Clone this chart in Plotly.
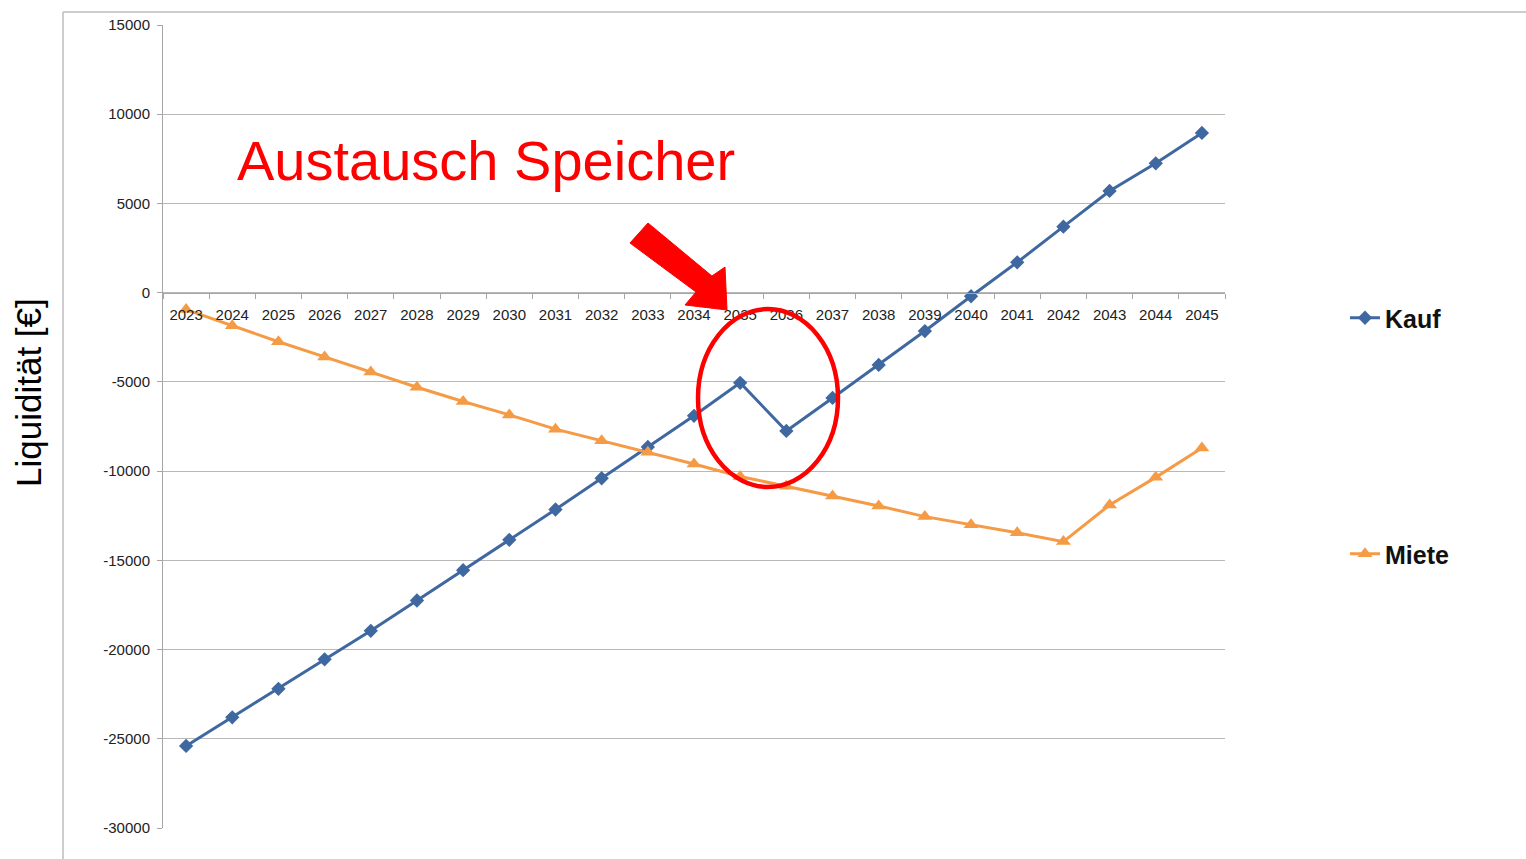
import plotly.graph_objects as go

years = [str(y) for y in range(2023, 2046)]
kauf = [-25400, -23800, -22200, -20550, -18950, -17250, -15550, -13850, -12150, -10400,
        -8650, -6900, -5050, -7750, -5900, -4050, -2150, -200, 1700, 3700, 5700, 7250, 8950]
miete = [-950, -1850, -2750, -3600, -4450, -5300, -6100, -6850, -7650, -8300,
         -8950, -9600, -10300, -10850, -11400, -11950, -12550, -13000, -13450, -13950,
         -11900, -10350, -8700]
y_ticks = [15000, 10000, 5000, 0, -5000, -10000, -15000, -20000, -25000, -30000]
y_ticktext = ["15000", "10000", "5000", "0", "-5000", "-10000", "-15000",
              "-20000", "-25000", "-30000"]

SW, SH = 1526, 859  # screen size
L, R, T, B = 163, 1225, 25, 828  # plot area in screen pixels


def px(x):
    return (x - L) / (R - L)


def py(y):
    return (B - y) / (B - T)


fig = go.Figure()
fig.add_trace(go.Scatter(
    x=years, y=kauf, name="Kauf", mode="lines+markers",
    line=dict(color="#3F68A0", width=3),
    marker=dict(symbol="diamond", size=11, color="#3F68A0"),
    legend="legend", showlegend=True))
fig.add_trace(go.Scatter(
    x=years, y=miete, name="Miete", mode="lines+markers",
    line=dict(color="#F59A45", width=3),
    marker=dict(symbol="triangle-up", size=13, color="#F59A45"),
    legend="legend2", showlegend=True))

arrow_pts = [(648, 223), (712, 276), (725, 267), (727, 310), (685, 305), (696, 292), (630, 243)]
path = "M " + " L ".join(f"{px(x):.4f},{py(y):.4f}" for x, y in arrow_pts) + " Z"
shapes = [
    dict(type="path", xref="paper", yref="paper", path=path,
         fillcolor="#FF0000", line=dict(color="#FF0000", width=1)),
    dict(type="circle", xref="paper", yref="paper",
         x0=px(698), x1=px(838), y0=py(487), y1=py(309),
         line=dict(color="#FF0000", width=4.5)),
    dict(type="line", xref="paper", yref="paper",
         x0=px(63), x1=px(63), y0=py(12), y1=py(870),
         line=dict(color="#BDBDBD", width=1.5)),
    dict(type="line", xref="paper", yref="paper",
         x0=px(63), x1=px(1540), y0=py(12), y1=py(12),
         line=dict(color="#BDBDBD", width=1.5)),
]

fig.update_layout(
    width=SW, height=SH,
    margin=dict(l=L, r=SW - R, t=T, b=SH - B),
    paper_bgcolor="white", plot_bgcolor="white",
    font=dict(family="Liberation Sans, Arial, sans-serif", color="#222222"),
    shapes=shapes,
    showlegend=True,
    xaxis=dict(
        type="category", range=[-0.5, 22.5],
        anchor="free", position=30000 / 45000,
        showgrid=False, showline=True, linecolor="#A6A6A6", linewidth=1,
        ticks="outside", tickson="boundaries", ticklen=5, tickcolor="#A6A6A6",
        tickfont=dict(size=15, color="#222222"),
        ticklabelstandoff=8,
    ),
    yaxis=dict(
        range=[-30000, 15000], tickmode="array",
        tickvals=y_ticks, ticktext=y_ticktext,
        showgrid=True, gridcolor="#B8B8B8", gridwidth=1,
        zeroline=False,
        showline=True, linecolor="#A6A6A6", linewidth=1,
        ticks="outside", ticklen=5, tickcolor="#A6A6A6",
        tickfont=dict(size=15, color="#222222"),
        ticklabelstandoff=4,
    ),
    legend=dict(x=px(1345), y=py(318), xanchor="left", yanchor="middle",
                font=dict(size=25, color="#111111", family="Liberation Sans, Arial",
                          weight="bold"),
                itemwidth=30, bgcolor="rgba(0,0,0,0)"),
    legend2=dict(x=px(1345), y=py(554), xanchor="left", yanchor="middle",
                 font=dict(size=25, color="#111111", family="Liberation Sans, Arial",
                           weight="bold"),
                 itemwidth=30, bgcolor="rgba(0,0,0,0)"),
    annotations=[
        dict(text="Austausch Speicher", xref="paper", yref="paper",
             x=px(486), y=py(160), xanchor="center", yanchor="middle",
             showarrow=False, font=dict(size=56, color="#FF0000",
                                        family="Liberation Sans, Arial")),
        dict(text="Liquidität [€]", xref="paper", yref="paper",
             x=px(28), y=py(393), xanchor="center", yanchor="middle",
             textangle=-90, showarrow=False,
             font=dict(size=35, color="#000000", family="Liberation Sans, Arial")),
    ],
)

fig.write_html(
    "out.html",
    config={"displayModeBar": False},
    post_script="document.body.style.margin='0';document.body.style.overflow='hidden';",
)
